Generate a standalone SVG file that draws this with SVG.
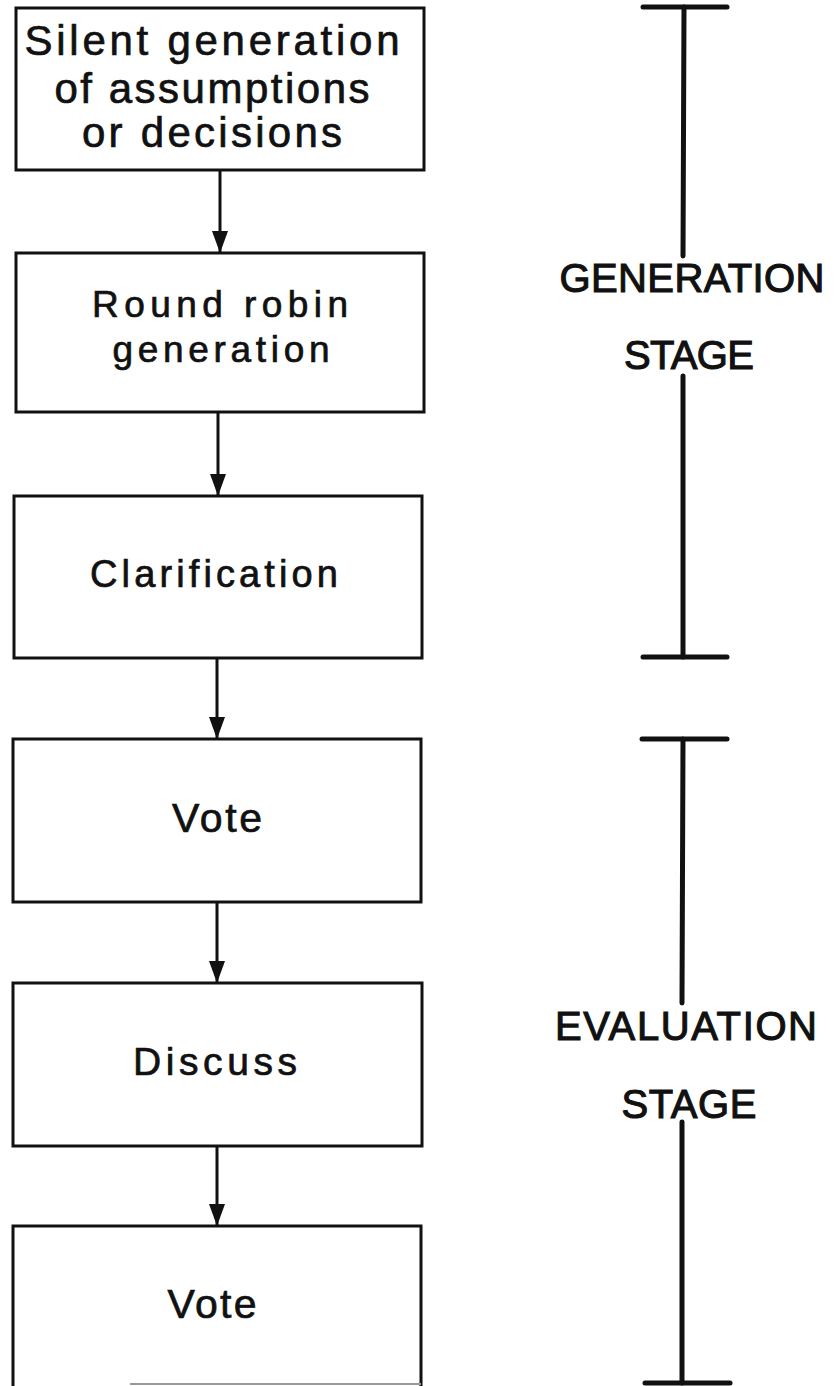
<svg xmlns="http://www.w3.org/2000/svg" width="837" height="1386" viewBox="0 0 837 1386">
<style>
.box{fill:#fff;stroke:#111;stroke-width:3}
.lbl{font-family:"Liberation Sans",Arial,sans-serif;fill:#111;stroke:#111;stroke-width:0.7;text-anchor:middle}
.stg{stroke-width:1.1}
.conn{stroke:#111;stroke-width:3;fill:none}
.br{stroke:#111;stroke-width:5;stroke-linecap:round;fill:none}
</style>
<defs>
<marker id="ah" viewBox="0 0 22 16" refX="22" refY="8" markerWidth="22" markerHeight="16" markerUnits="userSpaceOnUse" orient="auto">
<path d="M0,0 L22,8 L0,16 Z" fill="#111"/>
</marker>
</defs>
<rect width="837" height="1386" fill="#fff"/>
<g id="connectors">
<line class="conn" x1="220" y1="170" x2="220" y2="253" marker-end="url(#ah)"/>
<line class="conn" x1="218" y1="412" x2="218" y2="496" marker-end="url(#ah)"/>
<line class="conn" x1="217" y1="658" x2="217" y2="739" marker-end="url(#ah)"/>
<line class="conn" x1="217" y1="902" x2="217" y2="983" marker-end="url(#ah)"/>
<line class="conn" x1="217" y1="1146" x2="217" y2="1226" marker-end="url(#ah)"/>
</g>
<g id="n1">
<rect class="box" x="16" y="8" width="408" height="162"/>
<text class="lbl" font-size="42" x="212" y="55" textLength="375" lengthAdjust="spacing">Silent generation</text>
<text class="lbl" font-size="42" x="212" y="103" textLength="315" lengthAdjust="spacing">of assumptions</text>
<text class="lbl" font-size="42" x="212" y="147" textLength="260" lengthAdjust="spacing">or decisions</text>
</g>
<g id="n2">
<rect class="box" x="16" y="253" width="408" height="159"/>
<text class="lbl" font-size="37" x="220" y="317" textLength="256" lengthAdjust="spacing">Round robin</text>
<text class="lbl" font-size="37" x="221" y="362" textLength="217" lengthAdjust="spacing">generation</text>
</g>
<g id="n3">
<rect class="box" x="14" y="496" width="408" height="162"/>
<text class="lbl" font-size="38" x="214" y="587" textLength="248" lengthAdjust="spacing">Clarification</text>
</g>
<g id="n4">
<rect class="box" x="13" y="739" width="408" height="163"/>
<text class="lbl" font-size="41" x="217" y="832" textLength="90" lengthAdjust="spacing">Vote</text>
</g>
<g id="n5">
<rect class="box" x="13" y="983" width="409" height="163"/>
<text class="lbl" font-size="39" x="215" y="1075" textLength="164" lengthAdjust="spacing">Discuss</text>
</g>
<g id="n6">
<path class="box" d="M13,1386 L13,1226 L421,1226 L421,1386"/>
<line x1="130" y1="1384" x2="421" y2="1384" stroke="#999" stroke-width="2"/>
<text class="lbl" font-size="41" x="212" y="1318" textLength="89" lengthAdjust="spacing">Vote</text>
</g>
<g id="generation-stage">
<line class="br" x1="643" y1="7" x2="727" y2="7"/>
<line class="br" x1="684" y1="7" x2="683" y2="256"/>
<text class="lbl stg" font-size="40" x="692" y="292" textLength="265" lengthAdjust="spacing">GENERATION</text>
<text class="lbl stg" font-size="40" x="689" y="369" textLength="130" lengthAdjust="spacing">STAGE</text>
<line class="br" x1="683" y1="376" x2="683" y2="657"/>
<line class="br" x1="643" y1="657" x2="727" y2="657"/>
</g>
<g id="evaluation-stage">
<line class="br" x1="642" y1="739" x2="727" y2="739"/>
<line class="br" x1="683" y1="739" x2="682" y2="1003"/>
<text class="lbl stg" font-size="40" x="686" y="1040" textLength="262" lengthAdjust="spacing">EVALUATION</text>
<text class="lbl stg" font-size="40" x="689" y="1118" textLength="135" lengthAdjust="spacing">STAGE</text>
<line class="br" x1="682" y1="1122" x2="682" y2="1383"/>
<line class="br" x1="645" y1="1383" x2="730" y2="1383"/>
</g>
</svg>
